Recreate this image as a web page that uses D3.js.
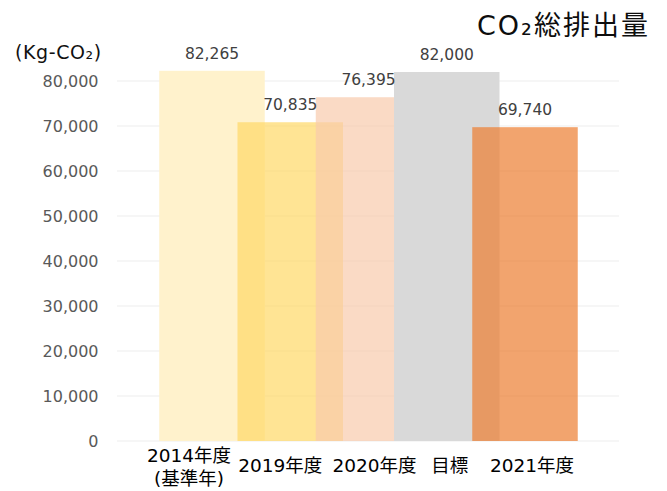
<!DOCTYPE html>
<html lang="ja">
<head>
<meta charset="UTF-8">
<title>CO2総排出量</title>
<style>
  body { margin: 0; background: #fff; }
  text { font-family: "DejaVu Sans", "Noto Sans CJK JP", sans-serif; }
</style>
</head>
<body>
<div id="target"></div>
<script src="https://d3js.org/d3.v7.min.js"></script>
<script>
// data
const categories = ["2014年度", "2019年度", "2020年度", "目標", "2021年度"];
const subLabels = ["(基準年)", "", "", "", ""];
const values = [82265, 70835, 76395, 82000, 69740];
const yTicks = [0, 10000, 20000, 30000, 40000, 50000, 60000, 70000, 80000];

const colors = ["#FFF2CC", "#FFD966", "#F8CBAD", "#D9D9D9", "#ED7D31"];
const opac = [1, 0.7, 0.7, 1, 0.7];
// category labels are not quite centred under their bars in the original
const catDx = [-23, -10, 6, 3, 7];

const width = 667, height = 491;
const svg = d3.select("#target").append("svg")
  .attr("width", width).attr("height", height);

const y = d3.scaleLinear().domain([0, 80000]).range([441, 81]);
const x = d3.scalePoint().domain(categories).range([212, 525]);
const barW = 105.5;

// grid
svg.append("g").selectAll("line").data(yTicks).join("line")
  .attr("x1", 117).attr("x2", 619)
  .attr("y1", d => y(d)).attr("y2", d => y(d))
  .attr("stroke", "#EDEDED").attr("stroke-width", 1);

// y labels
svg.append("g").selectAll("text").data(yTicks).join("text")
  .attr("x", 98.5).attr("y", d => y(d))
  .attr("dy", "0.36em")
  .attr("text-anchor", "end")
  .attr("font-size", 16)
  .attr("fill", "#595959")
  .text(d => d3.format(",")(d));

// bars
svg.append("g").selectAll("rect").data(values).join("rect")
  .attr("x", (d, i) => x(categories[i]) - barW / 2)
  .attr("width", barW)
  .attr("y", d => y(d))
  .attr("height", d => y(0) - y(d))
  .attr("fill", (d, i) => colors[i])
  .attr("fill-opacity", (d, i) => opac[i]);

// value labels
svg.append("g").selectAll("text").data(values).join("text")
  .attr("x", (d, i) => x(categories[i]))
  .attr("y", d => y(d) - 12)
  .attr("text-anchor", "middle")
  .attr("font-size", 15.5)
  .attr("fill", "#404040")
  .text(d => d3.format(",")(d));

// category labels
svg.append("g").selectAll("text").data(categories).join("text")
  .attr("x", (d, i) => x(d) + catDx[i])
  .attr("y", (d, i) => subLabels[i] ? 462 : 472)
  .attr("text-anchor", "middle")
  .attr("font-size", 18.5)
  .attr("fill", "#000")
  .text(d => d);

svg.append("g").selectAll("text").data(subLabels.filter(s => s)).join("text")
  .attr("x", x(categories[0]) + catDx[0])
  .attr("y", 485)
  .attr("text-anchor", "middle")
  .attr("font-size", 18.5)
  .attr("fill", "#000")
  .text(d => d);

// unit
svg.append("text")
  .attr("x", 15).attr("y", 59)
  .attr("font-size", 19)
  .attr("letter-spacing", 0.6)
  .attr("fill", "#111")
  .text("(Kg-CO₂)");

// title
svg.append("text")
  .attr("x", 477).attr("y", 35)
  .attr("font-size", 27)
  .attr("letter-spacing", 2)
  .attr("fill", "#0d0d0d")
  .text("CO₂総排出量");
</script>
</body>
</html>
